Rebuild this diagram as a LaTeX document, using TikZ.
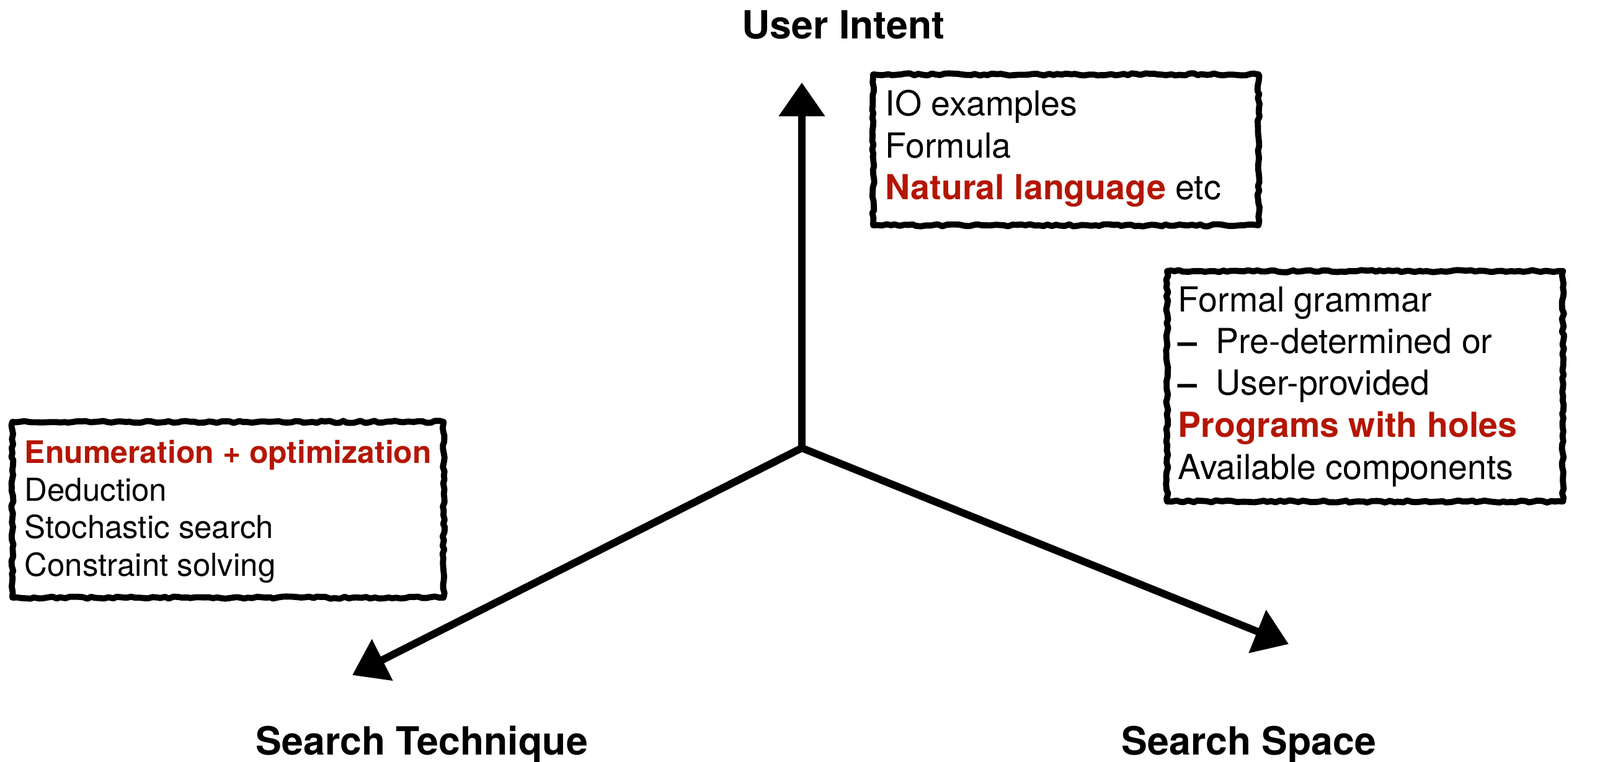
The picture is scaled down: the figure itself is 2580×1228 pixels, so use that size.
\documentclass[tikz,border=0pt]{standalone}
\usepackage{fontspec}
\setmainfont{TeX Gyre Heros}
\usetikzlibrary{arrows.meta,decorations.pathmorphing}
\definecolor{hired}{RGB}{180,22,2}
\begin{document}
\begin{tikzpicture}[x=0.01cm,y=-0.01cm,
  axis/.style={line width=3.4pt, line cap=round, -{Triangle[length=15.5pt,width=20.5pt]}},
  sketchbox/.style={draw, line width=2.8pt, line join=round, inner sep=0pt, anchor=north west,
    decorate, decoration={random steps, segment length=2pt, amplitude=0.5pt}},
  titletext/.style={anchor=base west, inner sep=0pt, font=\fontsize{17.8pt}{20pt}\selectfont\bfseries},
  itemA/.style={anchor=base west, inner sep=0pt, font=\fontsize{15.8pt}{19pt}\selectfont},
  itemB/.style={anchor=base west, inner sep=0pt, font=\fontsize{14.5pt}{17pt}\selectfont}
]
\useasboundingbox (0,0) rectangle (2580,1228);

% axes
\coordinate (O) at (1293,722);
\coordinate (up) at (1293,133);
\coordinate (lt) at (568,1088);
\coordinate (rt) at (2078,1038);
\draw[axis] (O) -- (up);
\draw[axis] (O) -- (lt);
\draw[axis] (O) -- (rt);

% titles
\node[titletext] (tIntent) at (1196,63) {User Intent};
\node[titletext] (tTech) at (412,1217) {Search Technique};
\node[titletext] (tSpace) at (1808,1217) {Search Space};

% boxes
\node[sketchbox, minimum width=6.21cm, minimum height=2.43cm] (boxIntent) at (1403,115) {};
\node[sketchbox, minimum width=6.38cm, minimum height=3.71cm] (boxSpace) at (1877,432) {};
\node[sketchbox, minimum width=6.95cm, minimum height=2.83cm] (boxTech) at (15,675) {};

% user intent items
\node[itemA] (i1) at (1427,187) {IO examples};
\node[itemA] (i2) at (1427,255) {Formula};
\node[itemA] (i3) at (1427,322) {\textcolor{hired}{\bfseries Natural language} etc};

% search space items
\node[itemA] (s1) at (1899,503) {Formal grammar};
\node[itemA] (s2d) at (1899,570) {\bfseries –};
\node[itemA] (s2) at (1960,570) {Pre-determined or};
\node[itemA] (s3d) at (1899,637) {\bfseries –};
\node[itemA] (s3) at (1960,637) {User-provided};
\node[itemA, text=hired] (s4) at (1899,705) {\bfseries Programs with holes};
\node[itemA] (s5) at (1899,773) {Available components};

% search technique items
\node[itemB, text=hired, font=\fontsize{14.2pt}{17pt}\selectfont] (e1) at (39,747) {\bfseries Enumeration + optimization};
\node[itemB] (e2) at (39,808) {Deduction};
\node[itemB] (e3) at (39,868) {Stochastic search};
\node[itemB] (e4) at (39,929) {Constraint solving};
\end{tikzpicture}
\end{document}
